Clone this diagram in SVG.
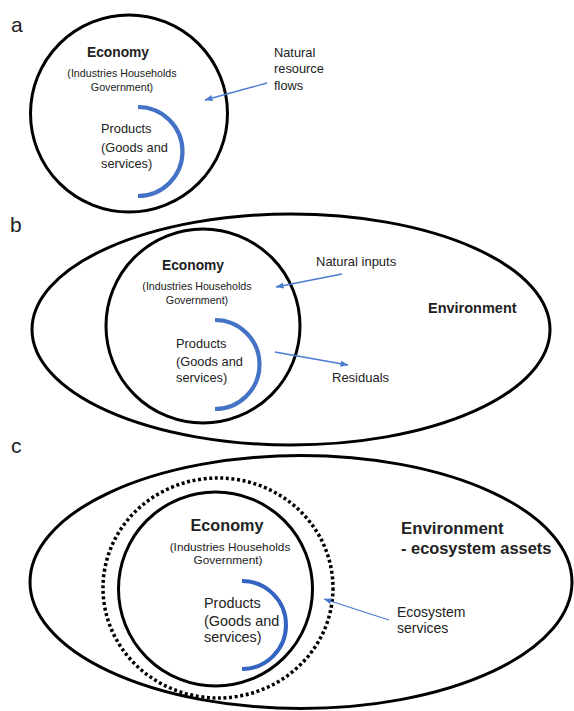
<svg xmlns="http://www.w3.org/2000/svg" width="574" height="711" viewBox="0 0 574 711">
<style>
  .bg { fill: #ffffff; }
  .ring { fill: none; stroke: #000000; stroke-width: 3; }
  .dotted { fill: none; stroke: #000000; stroke-width: 3.5; stroke-dasharray: 3 2.6; }
  .prod { fill: none; stroke: #4472C4; stroke-width: 4.2; }
  .prodc { fill: none; stroke: #3563c2; stroke-width: 4; }
  .flow { fill: none; stroke: #4a7bd0; stroke-width: 1.3; }
  text { font-family: "Liberation Sans", Arial, sans-serif; fill: #222222; }
  .panel { font-size: 21px; }
  .bold { font-weight: bold; }
  .mid { text-anchor: middle; }
</style>
<defs>
  <marker id="arrow" viewBox="0 0 8 6" refX="7.5" refY="3" markerWidth="8" markerHeight="6" markerUnits="userSpaceOnUse" orient="auto">
    <path d="M0,0 L8,3 L0,6 z" fill="#4a7bd0"/>
  </marker>
</defs>
<rect class="bg" x="0" y="0" width="574" height="711"/>

<!-- Panel a -->
<g id="panel-a">
  <text class="panel" x="11" y="32">a</text>
  <g id="a-economy">
    <circle class="ring" cx="129" cy="113.5" r="98.5"/>
    <text class="bold mid" x="118" y="57" font-size="13.8">Economy</text>
    <text class="mid" x="122" y="77" font-size="10.7">(Industries Households</text>
    <text class="mid" x="122" y="91" font-size="10.7">Government)</text>
  </g>
  <g id="a-products">
    <path class="prod" d="M138,107 A44.5,44.5 0 0 1 138,196"/>
    <text x="101" y="133" font-size="12.8">Products</text>
    <text x="101" y="151.5" font-size="12.8">(Goods and</text>
    <text x="101" y="168" font-size="12.8">services)</text>
  </g>
  <g id="a-natural-resource-flows">
    <text x="274" y="57" font-size="12.8">Natural</text>
    <text x="274" y="73" font-size="12.8">resource</text>
    <text x="274" y="90" font-size="12.8">flows</text>
  </g>
</g>

<!-- Panel b -->
<g id="panel-b">
  <text class="panel" x="10" y="232">b</text>
  <g id="b-environment">
    <ellipse class="ring" cx="291" cy="329.5" rx="259" ry="115.5"/>
    <text class="bold" x="428" y="313" font-size="14.5">Environment</text>
  </g>
  <g id="b-economy">
    <circle class="ring" cx="203" cy="326" r="97"/>
    <text class="bold mid" x="193" y="270" font-size="13.8">Economy</text>
    <text class="mid" x="197" y="290" font-size="10.7">(Industries Households</text>
    <text class="mid" x="197" y="304" font-size="10.7">Government)</text>
  </g>
  <g id="b-products">
    <path class="prod" d="M215,320 A44.5,44.5 0 0 1 215,409"/>
    <text x="176" y="348" font-size="12.8">Products</text>
    <text x="176" y="366" font-size="12.8">(Goods and</text>
    <text x="176" y="382" font-size="12.8">services)</text>
  </g>
  <g id="b-natural-inputs">
    <text x="316" y="266" font-size="13">Natural inputs</text>
  </g>
  <g id="b-residuals">
    <text x="332" y="382" font-size="13">Residuals</text>
  </g>
</g>

<!-- Panel c -->
<g id="panel-c">
  <text class="panel" x="11" y="453" font-size="20">c</text>
  <g id="c-environment">
    <ellipse class="ring" cx="301" cy="582" rx="271" ry="126.5"/>
    <text class="bold" x="401" y="534" font-size="16.8">Environment</text>
    <text class="bold" x="401" y="554" font-size="16.4">- ecosystem assets</text>
  </g>
  <g id="c-ecosystem-boundary">
    <ellipse class="dotted" cx="218" cy="588" rx="115" ry="110"/>
  </g>
  <g id="c-economy">
    <circle class="ring" cx="215.5" cy="589" r="97"/>
    <text class="bold mid" x="227" y="531" font-size="16.2">Economy</text>
    <text class="mid" x="230" y="551" font-size="11.8">(Industries Households</text>
    <text class="mid" x="228" y="564" font-size="11.8">Government)</text>
  </g>
  <g id="c-products">
    <path class="prodc" d="M242,581 A44,44 0 0 1 242,669"/>
    <text x="204" y="608" font-size="14.4">Products</text>
    <text x="204" y="626" font-size="14.4">(Goods and</text>
    <text x="204" y="642" font-size="14.4">services)</text>
  </g>
  <g id="c-ecosystem-services">
    <text x="397" y="617" font-size="14">Ecosystem</text>
    <text x="397" y="633" font-size="14">services</text>
  </g>
</g>

<!-- Connectors -->
<g id="connectors">
  <line class="flow" x1="267" y1="83" x2="205" y2="100" marker-end="url(#arrow)"/>
  <line class="flow" x1="342" y1="274" x2="276" y2="287" marker-end="url(#arrow)"/>
  <line class="flow" x1="275" y1="352" x2="348" y2="365" marker-end="url(#arrow)"/>
  <line class="flow" x1="389" y1="620" x2="324" y2="599" marker-end="url(#arrow)"/>
</g>
</svg>
